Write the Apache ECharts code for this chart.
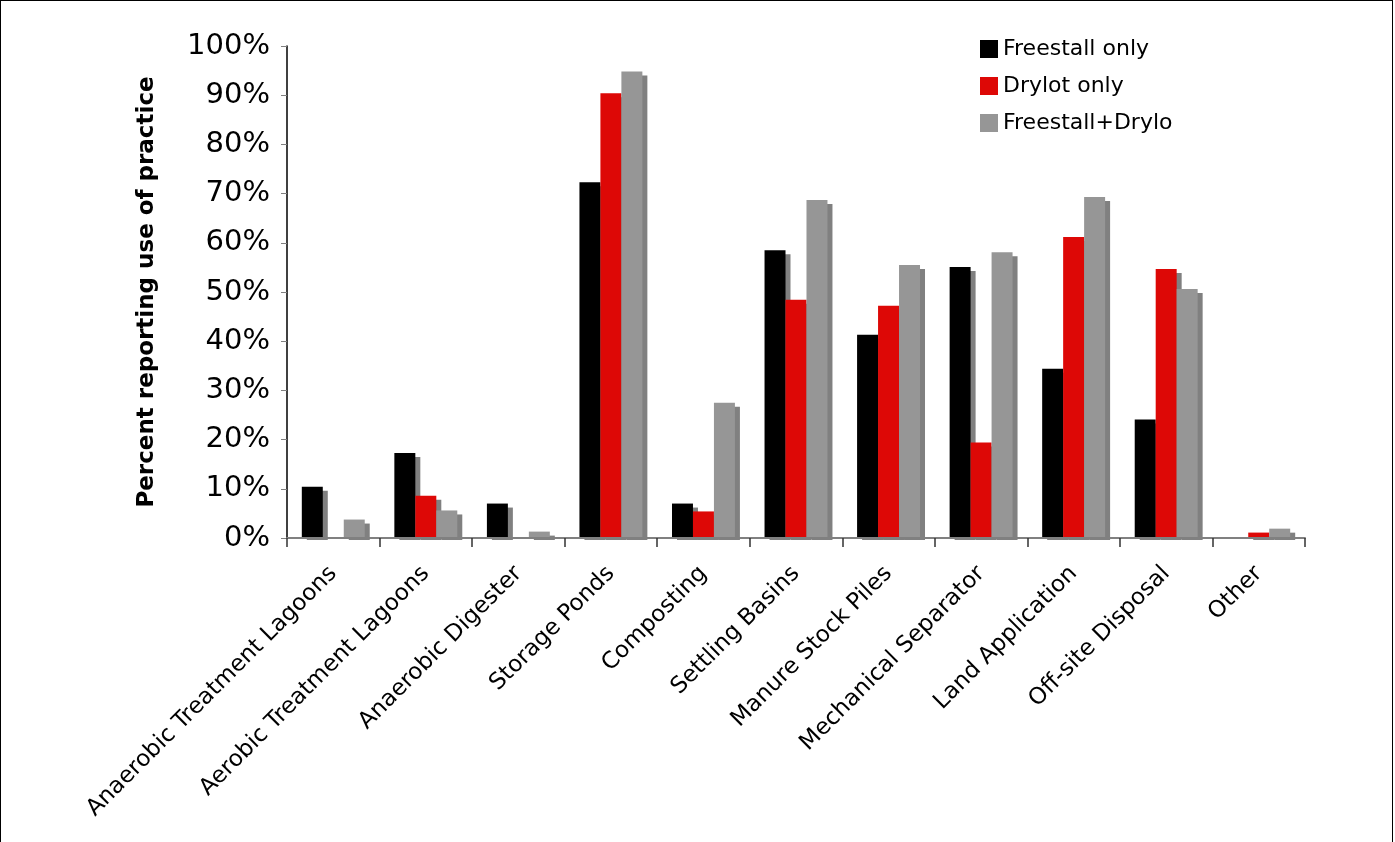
<!DOCTYPE html>
<html><head><meta charset="utf-8">
<script src="https://cdn.jsdelivr.net/npm/echarts@6/dist/echarts.min.js"></script>
<style>
html,body{margin:0;padding:0;background:#fff;}
#c{position:absolute;left:0;top:0;width:1393px;height:842px;border:1px solid #000;border-bottom:none;box-sizing:border-box;}
</style></head>
<body><div id="c"></div>
<script>
const categories = ["Anaerobic Treatment Lagoons","Aerobic Treatment Lagoons","Anaerobic Digester","Storage Ponds","Composting","Settling Basins","Manure Stock Piles","Mechanical Separator","Land Application","Off-site Disposal","Other"];
const freestallOnly = [10.4,17.3,7.0,72.3,7.0,58.5,41.3,55.1,34.4,24.1,0];
const drylotOnly = [0,8.6,0,90.4,5.4,48.4,47.2,19.4,61.2,54.7,1.1];
const freestallDrylot = [3.75,5.6,1.3,94.8,27.5,68.7,55.5,58.1,69.3,50.6,1.9];
const yTicks = [0,10,20,30,40,50,60,70,80,90,100];

const font = "DejaVu Sans";
const shadow = {shadowColor:'#808080', shadowOffsetX:5, shadowOffsetY:4, shadowBlur:0};
const chart = echarts.init(document.getElementById('c'));
chart.setOption({
  animation:false,
  textStyle:{fontFamily:font},
  legend:{
    left:974, top:32, orient:'vertical', itemGap:15, itemWidth:18, itemHeight:18,
    icon:'rect',
    textStyle:{fontSize:22, color:'#000', fontFamily:font, width:176, overflow:'truncate', ellipsis:''},
    data:['Freestall only','Drylot only','Freestall+Drylot']
  },
  grid:{left:286, right:87, top:45, bottom:304, containLabel:false},
  graphic:[{type:'rect', z:3, shape:{x:280, y:539, width:1040, height:8}, style:{fill:'#fff'}, silent:true}],
  xAxis:{
    type:'category', data:categories, z:10,
    axisLine:{lineStyle:{color:'#808080', width:2}},
    axisTick:{show:true, length:9, lineStyle:{color:'#333', width:1.5}},
    axisLabel:{rotate:45, fontSize:23, color:'#000', margin:32, interval:0, fontFamily:font}
  },
  yAxis:{
    type:'value', min:0, max:100, interval:10, z:10,
    name:'Percent reporting use of practice', nameLocation:'middle', nameGap:128,
    nameTextStyle:{fontSize:23, fontWeight:'bold', color:'#000', fontFamily:font},
    axisLine:{show:true, lineStyle:{color:'#000', width:1.5}},
    axisTick:{show:true, length:6, inside:false, lineStyle:{color:'#808080'}},
    splitLine:{show:false},
    axisLabel:{fontSize:29, color:'#000', margin:17, fontFamily:font,
      formatter:v => yTicks.includes(v) ? v + '%' : ''}
  },
  series:[
    {name:'Freestall only', type:'bar', data:freestallOnly, barGap:'0%', barCategoryGap:'32%', itemStyle:Object.assign({color:'#000000'}, shadow)},
    {name:'Drylot only', type:'bar', data:drylotOnly, itemStyle:Object.assign({color:'#dd0806'}, shadow)},
    {name:'Freestall+Drylot', type:'bar', data:freestallDrylot, itemStyle:Object.assign({color:'#969696'}, shadow)}
  ]
});
</script></body></html>
